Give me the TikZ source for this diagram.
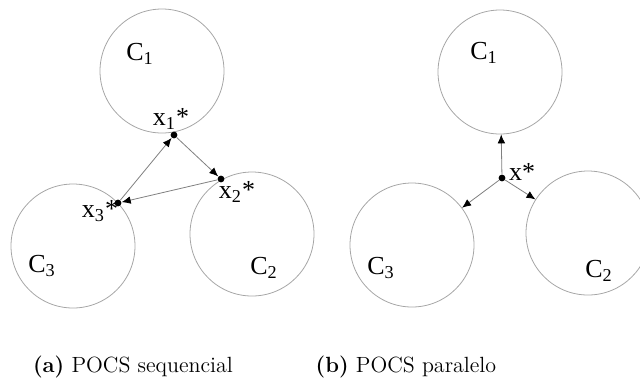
\documentclass[tikz,border=0pt]{standalone}
\usepackage{fontspec}
\newfontfamily\figfont{Liberation Serif}
\usetikzlibrary{arrows.meta}

\tikzset{
  set/.style={circle,draw=gray!70,line width=0.4pt,minimum size=62pt,inner sep=0pt},
  pt/.style={circle,fill=black,inner sep=0pt,minimum size=3.4pt},
  lab/.style={inner sep=0pt},
  proj/.style={draw=gray,line width=0.4pt,-{Latex[length=4.5pt,width=3.8pt,black]}}
}
\newcommand{\fig}[1]{{\figfont\fontsize{13}{15}\selectfont #1}}

\begin{document}
\begin{tikzpicture}[x=0.5pt,y=-0.5pt]
\useasboundingbox (0,0) rectangle (640,387);
% (a) sequential projections
\node[set] (A1) at (162,71) {};
\node[set] (A3) at (73,246) {};
\node[set] (A2) at (252,234) {};
\node[lab] (a1) at (140,54) {\fig{C\textsubscript{1}}};
\node[lab] (a3) at (42,266) {\fig{C\textsubscript{3}}};
\node[lab] (a2) at (264,268) {\fig{C\textsubscript{2}}};
\node[pt] (x1) at (174,135) {};
\node[pt] (x2) at (221,179) {};
\node[pt] (x3) at (118,203) {};
\node[lab] (lx1) at (171,119) {\fig{x\textsubscript{1}*}};
\node[lab] (lx2) at (237,192) {\fig{x\textsubscript{2}*}};
\node[lab] (lx3) at (100,211) {\fig{x\textsubscript{3}*}};
\draw[proj] (x3) -- (x1);
\draw[proj] (x1) -- (x2);
\draw[proj] (x2) -- (x3);
% (b) parallel projections
\node[set] (B1) at (500,72) {};
\node[set] (B3) at (412,245) {};
\node[set] (B2) at (588,233) {};
\node[lab] (b1) at (484,53) {\fig{C\textsubscript{1}}};
\node[lab] (b3) at (381,268) {\fig{C\textsubscript{3}}};
\node[lab] (b2) at (599,271) {\fig{C\textsubscript{2}}};
\node[pt] (xs) at (502,178) {};
\node[lab] (lxs) at (522,172) {\fig{x*}};
\draw[proj] (xs) -- (B1);
\draw[proj] (xs) -- (B3);
\draw[proj] (xs) -- (B2);
% captions
\node[font=\fontsize{11}{13}\selectfont] (capa) at (133,367) {\textbf{(a)} POCS sequencial};
\node[font=\fontsize{11}{13}\selectfont] (capb) at (406,367) {\textbf{(b)} POCS paralelo};
\end{tikzpicture}
\end{document}
